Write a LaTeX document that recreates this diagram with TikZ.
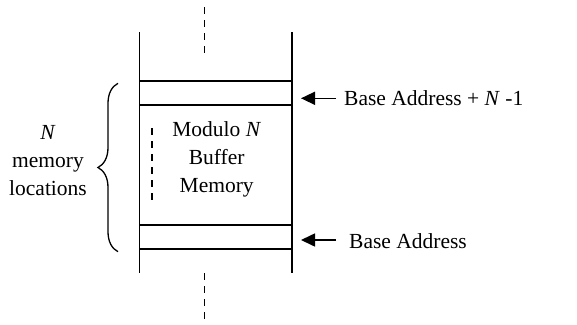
\documentclass[tikz,border=0pt]{standalone}
\usepackage{fontspec}
\setmainfont{Liberation Serif}
\usetikzlibrary{arrows.meta,decorations.pathreplacing}
\begin{document}
\begin{tikzpicture}[x=1pt,y=-1pt,
  wall/.style={line width=1.6pt},
  dashline/.style={line width=1.3pt, dash pattern=on 7pt off 6pt},
  lbl/.style={font=\fontsize{21.5}{28}\selectfont, align=center, inner sep=0pt},
  ptr/.style={line width=1.6pt, -{Triangle[length=14pt,width=13pt]}},
  bracestyle/.style={line width=1.3pt, decorate, decoration={brace,amplitude=20pt}}]
\useasboundingbox (0,0) rectangle (577,324);
% buffer walls
\coordinate (lt) at (139.3,32.3);
\coordinate (lb) at (139.3,273.3);
\coordinate (rt) at (292,32.3);
\coordinate (rb) at (292,273.3);
\draw[wall] (lt) -- (lb);
\draw[wall] (rt) -- (rb);
% cell boundaries
\coordinate (h1l) at (139.3,80.7);  \coordinate (h1r) at (292,80.7);
\coordinate (h2l) at (139.3,105);   \coordinate (h2r) at (292,105);
\coordinate (h3l) at (139.3,225);   \coordinate (h3r) at (292,225);
\coordinate (h4l) at (139.3,248.7); \coordinate (h4r) at (292,248.7);
\draw[wall] (h1l) -- (h1r);
\draw[wall] (h2l) -- (h2r);
\draw[wall] (h3l) -- (h3r);
\draw[wall] (h4l) -- (h4r);
% dashed continuation lines
\coordinate (dt1) at (204.7,7.3);   \coordinate (dt2) at (204.7,57);
\coordinate (db1) at (204.7,273.3); \coordinate (db2) at (204.7,322);
\coordinate (di1) at (152,128);     \coordinate (di2) at (152,201);
\draw[dashline] (dt1) -- (dt2);
\draw[dashline] (db1) -- (db2);
\draw[dashline] (di1) -- (di2);
% brace
\coordinate (bb) at (118,251.7);
\coordinate (bt) at (118,83.3);
\draw[bracestyle] (bb) -- (bt);
% labels
\node[lbl] (count) at (48,160.5) {\textit{N}\\memory\\locations};
\node[lbl] (buf) at (216.7,159) {Modulo \textit{N}\\Buffer\\Memory};
\node[lbl, anchor=west] (topaddr) at (344,98.3) {Base Address + \textit{N} -1};
\node[lbl, anchor=west] (baseaddr) at (349,241.5) {Base Address};
% pointers
\coordinate (tipA) at (301,98.3);
\coordinate (tipB) at (301,240);
\coordinate (tailA) at (336,98.3);
\coordinate (tailB) at (336,240);
\draw[ptr] (tailA) -- (tipA);
\draw[ptr] (tailB) -- (tipB);
\end{tikzpicture}
\end{document}
